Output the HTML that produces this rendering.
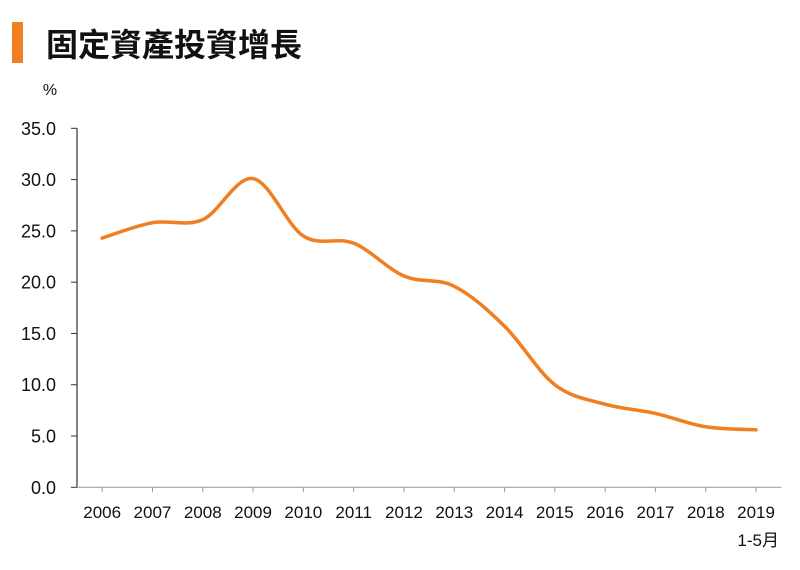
<!DOCTYPE html>
<html><head><meta charset="utf-8"><style>
body{margin:0;background:#fff;width:800px;height:565px;overflow:hidden;font-family:"Liberation Sans","Noto Sans CJK TC",sans-serif}
</style></head><body>
<svg width="800" height="565" font-family="Liberation Sans, Noto Sans CJK TC, sans-serif">
<rect x="12" y="22" width="11" height="41" fill="#f07f22"/>
<text x="46" y="56" font-size="32" font-weight="bold" fill="#111">固定資產投資增長</text>
<text x="50" y="95" font-size="16" text-anchor="middle" fill="#111">%</text>
<g id="axes"></g>
<path id="line" fill="none" stroke="#f07f22" stroke-width="3.5" stroke-linecap="round"/>
<text x="779" y="546" font-size="17" text-anchor="end" fill="#111">1-5月</text>
</svg>
<script>
const categories=["2006","2007","2008","2009","2010","2011","2012","2013","2014","2015","2016","2017","2018","2019"];
const values=[24.3,25.8,26.1,30.1,24.5,23.8,20.6,19.6,15.7,10.0,8.1,7.2,5.9,5.6];
const yTicks=[0,5,10,15,20,25,30,35];
const yTickLabels=["0.0","5.0","10.0","15.0","20.0","25.0","30.0","35.0"];
const x0=77,cw=50.3,yb=487.3,ppu=(487.3-128.3)/35;
const X=i=>x0+cw*(i+0.5), Y=v=>yb-v*ppu;
const ns="http://www.w3.org/2000/svg",g=document.getElementById('axes');
function el(t,a,txt){const e=document.createElementNS(ns,t);for(const k in a)e.setAttribute(k,a[k]);if(txt!=null)e.textContent=txt;g.appendChild(e);return e;}
let e=el('line',{x1:x0,y1:Y(35),x2:x0,y2:yb,stroke:'#333','stroke-width':1.2});


e=el('line',{x1:x0,y1:yb,x2:x0+cw*categories.length,y2:yb,stroke:'#999','stroke-width':1});


yTicks.forEach((v,i)=>{
 let t=el('line',{x1:x0-6,y1:Y(v),x2:x0,y2:Y(v),stroke:'#333','stroke-width':1});
 
 
 t=el('text',{x:56,y:Y(v)+6.5,'font-size':18,'text-anchor':'end',fill:'#111'},yTickLabels[i]);
 
 
});
categories.forEach((c,i)=>{
 let t=el('line',{x1:X(i),y1:yb,x2:X(i),y2:yb+5,stroke:'#999','stroke-width':1});
 
 
 t=el('text',{x:X(i),y:518,'font-size':17,'text-anchor':'middle',fill:'#111'},c);
 
 
});
const p=values.map((v,i)=>[X(i),Y(v)]);
let d=`M${p[0][0]},${p[0][1]}`;
for(let i=0;i<p.length-1;i++){
 const a=p[i-1]||p[i],b=p[i],c=p[i+1],n=p[i+2]||c,k=6;
 d+=` C${b[0]+(c[0]-a[0])/k},${b[1]+(c[1]-a[1])/k} ${c[0]-(n[0]-b[0])/k},${c[1]-(n[1]-b[1])/k} ${c[0]},${c[1]}`;
}
document.getElementById('line').setAttribute('d',d);
</script>
</body></html>
